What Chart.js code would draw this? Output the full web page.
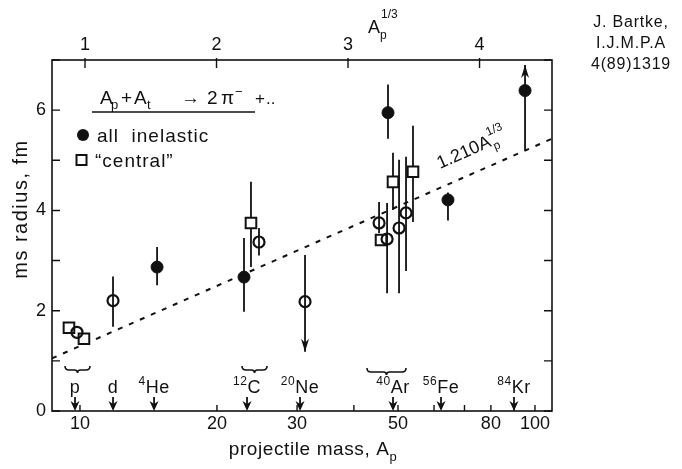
<!DOCTYPE html>
<html>
<head>
<meta charset="utf-8">
<script src="https://cdn.jsdelivr.net/npm/chart.js@4.4.1/dist/chart.umd.min.js"></script>
<style>
  html, body { margin: 0; padding: 0; background: #fff; }
</style>
</head>
<body>
<canvas id="grafico" width="682" height="469"></canvas>
<script>
// eixo de cima: A_p^(1/3) (linear) ; eixo de baixo: massa do projetil (log)
const ticksTopo = [1, 2, 3, 4];
const ticksMassa = [10, 20, 30, 50, 80, 100];
const ticksMassaMenores = [10, 20, 30, 40, 50, 60, 70, 80, 90, 100];
const ticksY = [0, 1, 2, 3, 4, 5, 6, 7];

// "all inelastic" (bolinhas cheias)
const cheioX  = [1.548, 2.209, 3.304, 3.760, 4.346];
const cheioY  = [2.87, 2.67, 5.95, 4.21, 6.39];
const cheioLo = [2.51, 1.98, 5.43, 3.80, 5.20];
const cheioHi = [3.27, 3.45, 6.51, 4.36, 6.90];
const cheioSeta = [0, 0, 0, 0, 1];

// bolinhas abertas (barra passando por dentro)
const abertoX  = [0.939, 1.213, 2.323, 2.673, 3.236, 3.297, 3.388, 3.441];
const abertoY  = [1.57, 2.20, 3.37, 2.18, 3.75, 3.43, 3.65, 3.95];
const abertoLo = [null, 1.68, 3.10, 1.18, 3.55, 2.35, 2.35, 2.79];
const abertoHi = [null, 2.68, 3.65, 3.11, 4.17, 4.15, 5.01, 5.07];
const abertoSeta = [0, 0, 0, -1, 0, 0, 0, 0];

// "central" (quadrados)
const centralX  = [0.878, 0.992, 2.262, 3.251, 3.342, 3.494];
const centralY  = [1.66, 1.44, 3.75, 3.41, 4.57, 4.77];
const centralLo = [null, null, 2.87, null, 4.01, 3.77];
const centralHi = [null, null, 4.57, null, 5.15, 5.69];

// reta 1.210 A_p^(1/3)
const retaX = [0.749, 4.551];
const retaY = [1.05, 5.43];

// projeteis marcados com setas no eixo de baixo
const isotopos = ["p", "d", "4He", "12C", "20Ne", "40Ar", "56Fe", "84Kr"];
const isotopoX = [0.924, 1.213, 1.525, 2.232, 2.635, 3.342, 3.707, 4.262];
// chaves agrupando pontos
const chaveDe = [0.848, 2.194, 3.144];
const chaveAte = [1.038, 2.384, 3.441];

const FONTE = "'Liberation Sans', Arial, Helvetica, sans-serif";
const COR = "#111";

function pontos(xs, ys) {
    return xs.map((x, i) => ({ x: x, y: ys[i] }));
}

function fonte(tam) {
    return tam + "px " + FONTE;
}

// escreve pedaços de texto com sub/sobrescrito
function escreve(ctx, partes, x, y, tam, centro) {
    const larg = partes.map(([t, tipo]) => {
        ctx.font = fonte(tipo ? Math.round(tam * 0.68) : tam);
        return ctx.measureText(t).width;
    });
    const total = larg.reduce((a, b) => a + b, 0);
    let cx = centro ? x - total / 2 : x;
    partes.forEach(([t, tipo], k) => {
        ctx.font = fonte(tipo ? Math.round(tam * 0.68) : tam);
        const dy = tipo === "sub" ? tam * 0.3 : tipo === "sup" ? -tam * 0.42 : 0;
        ctx.fillText(t, cx, y + dy);
        cx += larg[k];
    });
    return cx;
}

const barrasErro = {
    id: "barrasErro",
    beforeDatasetsDraw(chart) {
        const ctx = chart.ctx;
        const y = chart.scales.y;
        ctx.save();
        ctx.strokeStyle = COR;
        ctx.fillStyle = COR;
        ctx.lineWidth = 1.8;
        chart.data.datasets.forEach((ds, i) => {
            if (!ds.lo) return;
            const meta = chart.getDatasetMeta(i);
            meta.data.forEach((pt, j) => {
                if (ds.lo[j] == null) return;
                const yLo = y.getPixelForValue(ds.lo[j]);
                const yHi = y.getPixelForValue(ds.hi[j]);
                ctx.beginPath();
                ctx.moveTo(pt.x, yLo);
                ctx.lineTo(pt.x, yHi);
                ctx.stroke();
                const s = ds.seta ? ds.seta[j] : 0;
                if (s) {
                    const ponta = s > 0 ? yHi : yLo;
                    const d = s > 0 ? 1 : -1;
                    ctx.beginPath();
                    ctx.moveTo(pt.x, ponta);
                    ctx.lineTo(pt.x - 4, ponta + d * 13);
                    ctx.lineTo(pt.x, ponta + d * 9);
                    ctx.lineTo(pt.x + 4, ponta + d * 13);
                    ctx.closePath();
                    ctx.fill();
                }
            });
        });
        ctx.restore();
    }
};

const enfeites = {
    id: "enfeites",
    afterDraw(chart) {
        const ctx = chart.ctx;
        const a = chart.chartArea;
        const sy = chart.scales.y;
        const st = chart.scales.xTop;
        const sm = chart.scales.x;
        ctx.save();
        ctx.strokeStyle = COR;
        ctx.fillStyle = COR;

        // moldura
        ctx.lineWidth = 1.6;
        ctx.strokeRect(a.left, a.top, a.right - a.left, a.bottom - a.top);

        // ticks para dentro
        ctx.lineWidth = 1.4;
        ctx.beginPath();
        ticksY.forEach(v => {
            const py = sy.getPixelForValue(v);
            ctx.moveTo(a.left, py); ctx.lineTo(a.left + 8, py);
            ctx.moveTo(a.right, py); ctx.lineTo(a.right - 8, py);
        });
        ticksTopo.forEach(v => {
            const px = st.getPixelForValue(v);
            ctx.moveTo(px, a.top - 2); ctx.lineTo(px, a.top + 8);
        });
        ticksMassaMenores.forEach(v => {
            const px = sm.getPixelForValue(v);
            ctx.moveTo(px, a.bottom); ctx.lineTo(px, a.bottom - 6);
        });
        ctx.stroke();

        // setas dos projeteis
        ctx.textBaseline = "alphabetic";
        ctx.textAlign = "left";
        isotopos.forEach((nome, i) => {
            const px = st.getPixelForValue(isotopoX[i]);
            ctx.lineWidth = 1.8;
            ctx.beginPath();
            ctx.moveTo(px, a.bottom - 14);
            ctx.lineTo(px, a.bottom - 6);
            ctx.stroke();
            ctx.beginPath();
            ctx.moveTo(px, a.bottom);
            ctx.lineTo(px - 4.5, a.bottom - 10);
            ctx.lineTo(px, a.bottom - 7);
            ctx.lineTo(px + 4.5, a.bottom - 10);
            ctx.closePath();
            ctx.fill();
            const m = nome.match(/^(\d*)(.*)$/);
            const partes = m[1] ? [[m[1], "sup"], [m[2], ""]] : [[m[2], ""]];
            ctx.letterSpacing = "0.5px";
            escreve(ctx, partes, px, 393, 18, true);
        });

        // chaves
        ctx.lineWidth = 1.6;
        chaveDe.forEach((u, i) => {
            const x0 = st.getPixelForValue(u);
            const x1 = st.getPixelForValue(chaveAte[i]);
            const xm = (x0 + x1) / 2;
            const yb = i === 2 ? 372 : 370;
            ctx.beginPath();
            ctx.moveTo(x0, yb - 4);
            ctx.quadraticCurveTo(x0, yb, x0 + 4, yb);
            ctx.lineTo(xm - 3, yb);
            ctx.quadraticCurveTo(xm, yb, xm, yb + 3);
            ctx.quadraticCurveTo(xm, yb, xm + 3, yb);
            ctx.lineTo(x1 - 4, yb);
            ctx.quadraticCurveTo(x1, yb, x1, yb - 4);
            ctx.stroke();
        });

        // legenda
        ctx.letterSpacing = "0px";
        const pedacos = [
            ["A", 100, 0, 19], ["p", 111, 5, 13], ["+", 121, 0, 19], ["A", 134, 0, 19],
            ["t", 147, 5, 13], ["\u2192", 181, 0, 19], ["2", 207, 0, 19], ["\u03c0", 221, 0, 19],
            ["\u2212", 235, -8, 13], ["+", 255, 0, 17], ["..", 266, 0, 17]
        ];
        pedacos.forEach(([t, x, dy, tam]) => {
            ctx.font = fonte(tam);
            ctx.fillText(t, x, 104 + dy);
        });
        ctx.lineWidth = 1.3;
        ctx.beginPath();
        ctx.moveTo(92, 112); ctx.lineTo(255, 112);
        ctx.stroke();

        ctx.beginPath();
        ctx.arc(83, 135, 6, 0, Math.PI * 2);
        ctx.fill();
        ctx.lineWidth = 2;
        ctx.strokeRect(76.5, 155, 10, 10);
        ctx.letterSpacing = "1px";
        ctx.font = fonte(19);
        ctx.fillText("all  inelastic", 97, 142);
        ctx.fillText("\u201ccentral\u201d", 95, 167);

        // titulos dos eixos
        ctx.letterSpacing = "0.6px";
        escreve(ctx, [["projectile mass, A", ""], ["p", "sub"]], 313, 455, 19, true);

        ctx.save();
        ctx.translate(27, 209);
        ctx.rotate(-Math.PI / 2);
        ctx.letterSpacing = "1.5px";
        escreve(ctx, [["ms radius, fm", ""]], 0, 0, 20, true);
        ctx.restore();

        ctx.letterSpacing = "0px";
        ctx.font = fonte(18);
        ctx.fillText("A", 368, 33);
        ctx.font = fonte(12);
        ctx.fillText("p", 380, 39);
        ctx.fillText("1/3", 381, 18);

        // rotulo da reta
        ctx.save();
        ctx.translate(440, 169);
        ctx.rotate(-0.415);
        ctx.font = fonte(18);
        ctx.fillText("1.210A", 0, 0);
        const w = ctx.measureText("1.210A").width;
        ctx.font = fonte(12);
        ctx.fillText("p", w + 1, 5);
        ctx.fillText("1/3", w, -11);
        ctx.restore();

        // referencia
        ctx.textAlign = "center";
        ctx.letterSpacing = "0.8px";
        ctx.font = fonte(16);
        ctx.fillText("J. Bartke,", 631, 27);
        ctx.fillText("I.J.M.P.A", 631, 48);
        ctx.fillText("4(89)1319", 631, 69);
        ctx.restore();
    }
};

const config = {
    type: "scatter",
    data: {
        datasets: [
            {
                label: "all inelastic",
                xAxisID: "xTop",
                data: pontos(cheioX, cheioY),
                lo: cheioLo, hi: cheioHi, seta: cheioSeta,
                pointStyle: "circle",
                pointRadius: 6,
                backgroundColor: COR,
                borderColor: COR,
                borderWidth: 1
            },
            {
                label: "all inelastic (open)",
                xAxisID: "xTop",
                data: pontos(abertoX, abertoY),
                lo: abertoLo, hi: abertoHi, seta: abertoSeta,
                pointStyle: "circle",
                pointRadius: 5.5,
                backgroundColor: "rgba(255,255,255,0)",
                borderColor: COR,
                borderWidth: 2.2
            },
            {
                label: "central",
                xAxisID: "xTop",
                data: pontos(centralX, centralY),
                lo: centralLo, hi: centralHi,
                pointStyle: "rect",
                pointRadius: 7.5,
                backgroundColor: "#fff",
                borderColor: COR,
                borderWidth: 2
            },
            {
                label: "1.210 A^1/3",
                xAxisID: "xTop",
                data: pontos(retaX, retaY),
                showLine: true,
                borderColor: COR,
                borderWidth: 2,
                borderDash: [5, 7],
                pointRadius: 0
            }
        ]
    },
    options: {
        responsive: false,
        animation: false,
        devicePixelRatio: 1,
        layout: { padding: { left: 0, right: 130, top: 0, bottom: 0 } },
        plugins: {
            legend: { display: false },
            tooltip: { enabled: false }
        },
        scales: {
            x: {
                type: "logarithmic",
                position: "bottom",
                min: 8.68,
                max: 109,
                grid: { display: false, drawTicks: false },
                border: { display: false },
                afterBuildTicks: (eixo) => { eixo.ticks = ticksMassa.map(v => ({ value: v })); },
                afterFit: (eixo) => { eixo.height = 58; },
                ticks: {
                    autoSkip: false,
                    maxRotation: 0,
                    padding: 2,
                    color: COR,
                    font: { family: FONTE, size: 18 },
                    callback: (v) => String(v)
                }
            },
            xTop: {
                type: "linear",
                position: "top",
                min: 0.749,
                max: 4.551,
                grid: { display: false, drawTicks: false },
                border: { display: false },
                afterBuildTicks: (eixo) => { eixo.ticks = ticksTopo.map(v => ({ value: v })); },
                afterFit: (eixo) => { eixo.height = 60; },
                ticks: {
                    autoSkip: false,
                    maxRotation: 0,
                    padding: 4,
                    color: COR,
                    font: { family: FONTE, size: 18 }
                }
            },
            y: {
                type: "linear",
                min: 0,
                max: 7,
                grid: { display: false, drawTicks: false },
                border: { display: false },
                afterBuildTicks: (eixo) => { eixo.ticks = ticksY.map(v => ({ value: v })); },
                afterFit: (eixo) => { eixo.width = 52; },
                ticks: {
                    autoSkip: false,
                    padding: 6,
                    color: COR,
                    font: { family: FONTE, size: 18 },
                    callback: (v) => (v % 2 === 0 ? String(v) : "")
                }
            }
        }
    },
    plugins: [barrasErro, enfeites]
};

const meuGrafico = new Chart(document.getElementById("grafico"), config);
</script>
</body>
</html>
